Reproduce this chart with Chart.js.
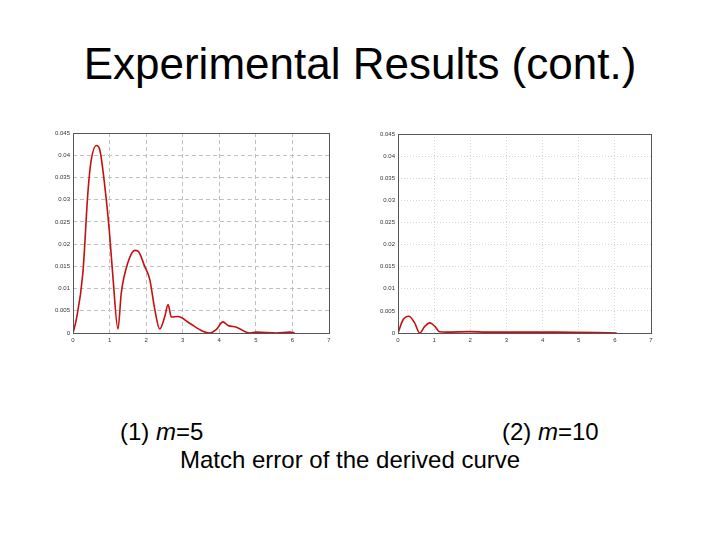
<!DOCTYPE html>
<html>
<head>
<meta charset="utf-8">
<script src="https://cdn.jsdelivr.net/npm/chart.js@4/dist/chart.umd.min.js"></script>
<style>
  body { margin: 0; width: 720px; height: 540px; background: #fff; position: relative; overflow: hidden; font-family: "Liberation Sans", Arial, sans-serif; color: #000; }
  .txt { position: absolute; line-height: 1; white-space: nowrap; }
  #title { left: 0; width: 720px; text-align: center; top: 42px; font-size: 44px; }
  #cap1 { left: 120px; top: 420px; font-size: 24px; }
  #cap2 { left: 502px; top: 420px; font-size: 24px; }
  #caption { left: 180px; top: 448px; font-size: 24px; }
  .box { position: absolute; top: 120px; width: 290px; height: 240px; }
  #left { left: 50px; }
  #right { left: 370px; }
</style>
</head>
<body>
<div id="title" class="txt">Experimental Results (cont.)</div>
<div id="cap1" class="txt">(1) <i>m</i>=5</div>
<div id="cap2" class="txt">(2) <i>m</i>=10</div>
<div id="caption" class="txt">Match error of the derived curve</div>
<div class="box" id="left"><canvas id="chart1"></canvas></div>
<div class="box" id="right"><canvas id="chart2"></canvas></div>
<script>
// m = 5
const xM5 = [0, 0.09, 0.27, 0.41, 0.50, 0.64, 0.73, 0.87, 0.99, 1.09, 1.23, 1.32, 1.50, 1.69, 1.78, 1.96, 2.10, 2.23, 2.37, 2.51, 2.60, 2.69, 2.87, 3.19, 3.55, 3.74, 3.92, 4.10, 4.24, 4.47, 4.83, 5.01, 5.56, 5.93, 6.06];
const yM5 = [0, 0.003, 0.0135, 0.0319, 0.039, 0.0422, 0.0413, 0.033, 0.0233, 0.0128, 0.0009, 0.009, 0.0158, 0.0186, 0.0184, 0.015, 0.012, 0.0056, 0.0009, 0.0037, 0.0064, 0.0036, 0.0037, 0.0022, 0.0004, 0.0, 0.0008, 0.0025, 0.0017, 0.0013, 0.0, 0.0002, 0.0, 0.0002, 0.0];
// m = 10
const xM10 = [0, 0.14, 0.30, 0.46, 0.60, 0.74, 0.88, 1.02, 1.15, 1.34, 1.99, 2.45, 3.37, 4.39, 6.05];
const yM10 = [0, 0.003, 0.0038, 0.0023, 0.0, 0.0015, 0.0023, 0.0015, 0.0003, 0.0002, 0.0003, 0.0002, 0.0002, 0.0002, 0.0];

const yTickLabels = ["0", "0.005", "0.01", "0.015", "0.02", "0.025", "0.03", "0.035", "0.04", "0.045"];
const xTickLabels = ["0", "1", "2", "3", "4", "5", "6", "7"];

const frameBox = {
  id: "frameBox",
  afterDraw(chart) {
    const { ctx, chartArea: a } = chart;
    ctx.save();
    ctx.strokeStyle = "#555";
    ctx.lineWidth = 1;
    ctx.strokeRect(a.left + 0.5, a.top + 0.5, a.right - a.left, a.bottom - a.top);
    ctx.restore();
  },
};

const makeChart = (id, xs, ys, yAxisWidth, pad, gridColor, gridDash) => {
  const el = document.getElementById(id);
  el.width = 290;
  el.height = 240;
  return new Chart(el, {
    type: "line",
    data: {
      datasets: [{
        data: xs.map((x, i) => ({ x, y: ys[i] })),
        borderColor: "#c41010",
        borderWidth: 1.6,
        pointRadius: 0,
        cubicInterpolationMode: "monotone",
      }],
    },
    options: {
      responsive: false,
      animation: false,
      layout: { padding: pad },
      plugins: { legend: { display: false }, tooltip: { enabled: false } },
      scales: {
        x: {
          type: "linear",
          min: 0,
          max: 7,
          afterFit: (s) => { s.height = 27; },
          ticks: { stepSize: 1, padding: 4, color: "#333", font: { size: 6 }, maxRotation: 0, callback: (v, i) => xTickLabels[i] },
          grid: { color: gridColor, drawTicks: false },
          border: { display: false, dash: gridDash },
        },
        y: {
          min: 0,
          max: 0.045,
          afterFit: (s) => { s.width = yAxisWidth; },
          ticks: { stepSize: 0.005, padding: 3, color: "#333", font: { size: 6 }, callback: (v, i) => yTickLabels[i] },
          grid: { color: gridColor, drawTicks: false },
          border: { display: false, dash: gridDash },
        },
      },
    },
    plugins: [frameBox],
  });
};

makeChart("chart1", xM5, yM5, 23, { top: 13, right: 11, left: 0, bottom: 0 }, "#c0c0c0", [4, 3]);
makeChart("chart2", xM10, yM10, 28, { top: 14, right: 9, left: 0, bottom: 0 }, "#d6d6d6", [1, 2]);
</script>
</body>
</html>
